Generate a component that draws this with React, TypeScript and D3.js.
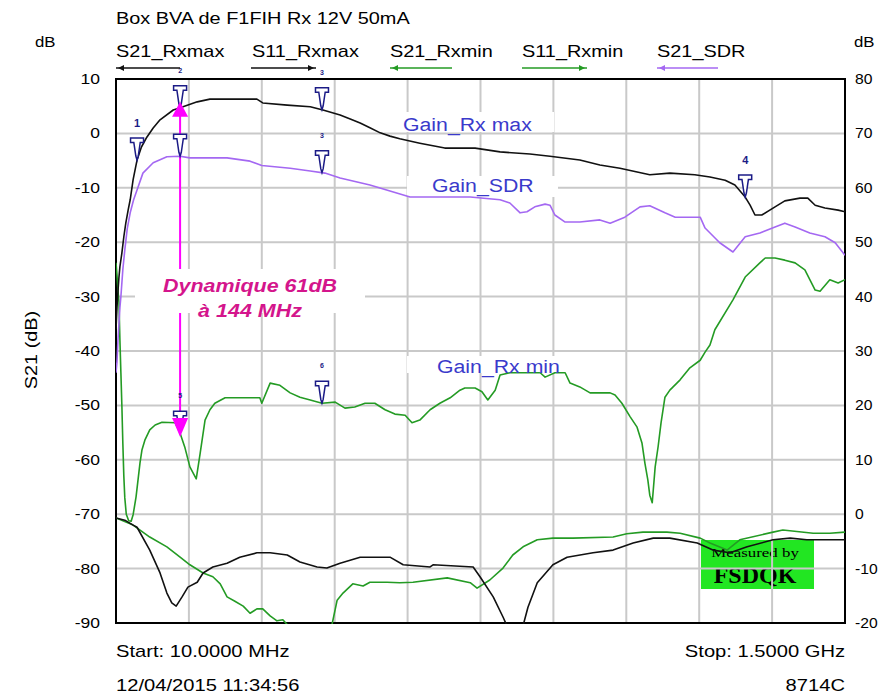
import React from "react";
import * as d3 from "d3";

type Pt = [number, number];

// ---------- text / axis data ----------
const titleText = "Box BVA de F1FIH Rx 12V 50mA";
const leftTicks = [10, 0, -10, -20, -30, -40, -50, -60, -70, -80, -90];
const rightTicks = [80, 70, 60, 50, 40, 30, 20, 10, 0, -10, -20];
const freqStart = 10;
const freqStop = 1500;
const xDivisions = 10;
const legendNames = ["S21_Rxmax", "S11_Rxmax", "S21_Rxmin", "S11_Rxmin", "S21_SDR"];
const startText = "Start: 10.0000 MHz";
const stopText = "Stop: 1.5000 GHz";
const dateText = "12/04/2015 11:34:56";
const modelText = "8714C";
const yAxisTitle = "S21 (dB)";
const gainLabels = ["Gain_Rx max", "Gain_SDR", "Gain_Rx min"];
const dynLines = ["Dynamique 61dB", "à 144 MHz"];
const stampLines = ["Measured by", "FSDQK"];

// ---------- series (freq MHz, dB) ----------
// left axis
const s21RxMax: Pt[] = [
  [10, -36], [12, -32], [14, -29], [16, -26.5], [18, -24.5], [22, -22], [26, -19], [30, -16.5],
  [35, -14], [39, -12.2], [45, -8.5], [53, -4.9], [62, -2.5], [73, -0.7], [86, 1.0], [100, 2.5],
  [127, 4.3], [147, 4.9], [176, 5.8], [202, 6.3], [298, 6.3], [310, 5.6], [360, 5.2], [407, 4.9],
  [433, 4.3], [468, 3.4], [490, 2.6], [509, 1.9], [530, 1.0], [550, 0.1], [570, -0.5], [590, -1.0],
  [631, -1.8], [682, -2.7], [744, -2.7], [795, -3.4], [856, -3.8], [897, -4.2], [958, -4.9],
  [999, -5.8], [1040, -6.4], [1101, -7.6], [1142, -7.3], [1193, -7.6], [1224, -8.0], [1255, -8.6],
  [1275, -9.5], [1296, -11.7], [1306, -13.2], [1316, -15.0], [1330, -15.0], [1357, -13.5],
  [1377, -12.4], [1408, -11.9], [1424, -11.9], [1439, -13.2], [1459, -13.7], [1486, -14.1], [1500, -14.4],
];
const s21Sdr: Pt[] = [
  [10, -44], [12, -42], [14, -38], [16, -35], [18, -32], [20, -30], [24, -25], [28, -21.4],
  [33, -17.5], [39, -14.6], [46, -12.2], [53, -10.4], [65, -7.3], [86, -5.4], [114, -4.3],
  [141, -4.2], [161, -4.5], [237, -4.5], [284, -5.1], [308, -5.9], [366, -6.4], [407, -6.9],
  [437, -7.3], [468, -8.2], [529, -9.5], [611, -11.7], [734, -11.7], [795, -12.2], [815, -12.8],
  [836, -14.6], [850, -14.4], [866, -13.5], [887, -13.0], [897, -13.2], [907, -15.0], [928, -16.3],
  [958, -16.3], [999, -15.9], [1020, -16.5], [1050, -15.4], [1081, -13.5], [1101, -13.3],
  [1132, -14.6], [1153, -15.4], [1204, -15.4], [1214, -17.4], [1244, -20.1], [1271, -21.8],
  [1296, -19.0], [1326, -18.3], [1357, -17.2], [1377, -16.5], [1398, -17.2], [1428, -18.3],
  [1459, -19.0], [1480, -20.1], [1500, -22.4],
];
const s21RxMin: Pt[] = [
  [10, -23.8], [12, -26], [14, -28.8], [16, -31], [18, -38], [20, -44], [22, -50], [24, -57],
  [26, -63], [28, -67], [31, -70], [36, -71.2], [41, -71.3], [45, -70.1], [51, -66.8], [59, -60.6],
  [63, -58.2], [69, -56.4], [79, -54.5], [90, -53.6], [104, -53.1], [131, -53.2], [141, -55.1],
  [151, -57.8], [161, -61.3], [174, -63.5], [182, -58.8], [192, -52.7], [202, -50.8], [212, -49.6],
  [233, -48.6], [304, -48.6], [308, -49.6], [325, -45.9], [345, -46.3], [366, -47.7], [386, -48.5],
  [407, -49.0], [431, -49.6], [458, -49.4], [478, -50.5], [498, -50.3], [519, -49.6], [539, -49.6],
  [560, -50.8], [580, -51.6], [601, -51.8], [615, -53.2], [631, -52.7], [652, -50.8], [672, -49.6],
  [693, -48.6], [713, -47.2], [723, -46.8], [744, -46.8], [758, -47.5], [770, -49.0], [785, -47.2],
  [795, -44.4], [815, -44.0], [877, -44.0], [887, -44.8], [907, -44.0], [928, -44.0], [938, -45.9],
  [958, -46.6], [979, -47.7], [1020, -47.7], [1030, -48.1], [1044, -49.6], [1061, -52.1],
  [1075, -54.0], [1085, -56.9], [1091, -60.6], [1097, -63.7], [1101, -66.5], [1106, -67.9],
  [1112, -61.3], [1118, -57.6], [1124, -53.2], [1132, -48.5], [1142, -47.2], [1163, -45.3],
  [1183, -43.1], [1204, -41.7], [1214, -40.2], [1224, -38.9], [1234, -36.1], [1271, -30.6],
  [1296, -26.4], [1326, -23.8], [1337, -22.9], [1357, -22.9], [1377, -23.3], [1398, -23.8],
  [1418, -25.1], [1439, -28.8], [1449, -29.0], [1469, -26.9], [1486, -27.5], [1500, -26.9],
];
// right axis
const s11RxMax: Pt[] = [
  [10, -0.7], [28, -1.1], [45, -2.0], [53, -2.4], [79, -6.6], [100, -10.8], [114, -14.5],
  [124, -16.3], [133, -16.9], [145, -15.2], [157, -13.4], [176, -12.5], [188, -10.8], [208, -9.7],
  [237, -9.0], [263, -7.9], [298, -7.1], [325, -7.1], [360, -7.5], [386, -8.8], [421, -9.7],
  [441, -9.9], [468, -9.0], [509, -7.9], [556, -7.9], [570, -7.9], [597, -9.3], [652, -9.7],
  [658, -9.3], [740, -9.7], [754, -11.5], [781, -15.2], [801, -18.9], [809, -20.5], [842, -20.5],
  [852, -17.1], [871, -12.6], [903, -9.3], [932, -7.9], [985, -7.1], [1026, -6.6], [1067, -5.3],
  [1108, -4.4], [1142, -4.4], [1198, -5.3], [1230, -6.6], [1265, -7.1], [1300, -6.0], [1353, -4.7],
  [1388, -4.4], [1422, -4.7], [1500, -4.7],
];
const s11RxMin: Pt[] = [
  [10, -0.7], [45, -2.0], [79, -4.2], [114, -6.0], [141, -7.9], [161, -9.3], [188, -10.8],
  [208, -11.5], [223, -12.8], [237, -15.2], [253, -16.0], [270, -16.9], [284, -18.2], [298, -17.4],
  [310, -17.4], [325, -18.7], [339, -19.6], [351, -19.4], [362, -20.5], [451, -20.5], [462, -15.8],
  [474, -14.5], [494, -12.8], [515, -13.2], [529, -12.5], [564, -12.5], [590, -12.6], [617, -12.5],
  [687, -11.7], [734, -12.6], [748, -13.6], [774, -12.1], [801, -9.9], [821, -7.5], [842, -6.0],
  [871, -4.7], [903, -4.4], [944, -4.4], [1026, -4.2], [1054, -3.6], [1087, -3.3], [1136, -3.3],
  [1163, -3.5], [1204, -4.4], [1224, -5.3], [1259, -6.6], [1285, -4.7], [1353, -3.3], [1373, -2.9],
  [1435, -3.5], [1469, -3.5], [1500, -3.3],
];

// markers (freq MHz)
const markerFreqs = [53, 141, 431, 1296];
const dynFreq = 141;
const dynTopDb = 5.8;
const dynBottomDb = -55.8;

// ---------- helpers ----------
function interp(data: Pt[], f: number): number {
  for (let i = 1; i < data.length; i++) {
    if (f <= data[i][0]) {
      const [f0, v0] = data[i - 1];
      const [f1, v1] = data[i];
      return v0 + ((f - f0) / (f1 - f0)) * (v1 - v0);
    }
  }
  return data[data.length - 1][1];
}

const SANS = "'Liberation Sans', Arial, sans-serif";
const SERIF = "'Liberation Serif', 'Times New Roman', serif";

function ST(props: {
  x: number; y: number; sx?: number; size: number; anchor?: string; fill?: string;
  weight?: string; italic?: boolean; family?: string; rotate?: number; children: React.ReactNode;
}) {
  const { x, y, sx = 1.17, size, anchor = "start", fill = "#000", weight = "normal", italic, family = SANS, rotate = 0 } = props;
  return (
    <text
      transform={`translate(${x},${y}) rotate(${rotate}) scale(${sx},1)`}
      textAnchor={anchor as any}
      fontSize={size}
      fontFamily={family}
      fontWeight={weight}
      fontStyle={italic ? "italic" : "normal"}
      fill={fill}
    >
      {props.children}
    </text>
  );
}

export default function App() {
  const L = 116, R = 845, T = 79, B = 623;
  const x = d3.scaleLinear().domain([freqStart, freqStop]).range([L, R]);
  const yL = d3.scaleLinear().domain([-90, 10]).range([B, T]);
  const yR = d3.scaleLinear().domain([-20, 80]).range([B, T]);
  const lineL = d3.line<Pt>().x((d) => x(d[0])).y((d) => yL(d[1]));
  const lineR = d3.line<Pt>().x((d) => x(d[0])).y((d) => yR(d[1]));
  const vGrid = d3.range(1, xDivisions).map((i) => freqStart + (i * (freqStop - freqStart)) / xDivisions);
  const hGrid = leftTicks.slice(1, -1);

  const BLACK = "#111";
  const GREEN = "#249b24";
  const PURPLE = "#a468f2";
  const NAVY = "#1b1b86";
  const GRID = "#c9c9c9";
  const MAG = "#ff00ff";

  const legend = [
    { name: legendNames[0], tx: 116, x0: 116, x1: 180, color: BLACK, dir: -1 },
    { name: legendNames[1], tx: 252, x0: 251, x1: 316, color: BLACK, dir: 1 },
    { name: legendNames[2], tx: 390, x0: 390, x1: 452, color: GREEN, dir: -1 },
    { name: legendNames[3], tx: 522, x0: 522, x1: 587, color: GREEN, dir: 1 },
    { name: legendNames[4], tx: 657, x0: 657, x1: 718, color: PURPLE, dir: -1 },
  ];

  const markers = [
    { data: s21RxMax, f: markerFreqs[0], label: "1", big: true },
    { data: s21RxMax, f: markerFreqs[1], label: "2", big: false },
    { data: s21RxMax, f: markerFreqs[2], label: "3", big: false },
    { data: s21RxMax, f: markerFreqs[3], label: "4", big: true },
    { data: s21Sdr, f: markerFreqs[1], label: "", big: false },
    { data: s21Sdr, f: markerFreqs[2], label: "3", big: false },
    { data: s21RxMin, f: markerFreqs[1], label: "5", big: false },
    { data: s21RxMin, f: markerFreqs[2], label: "6", big: false },
  ];

  const markerPath = "M-6.5,-22 L6.5,-22 L6.5,-17.5 L3.2,-17.5 L1.2,-4 L0,0 L-1.2,-4 L-3.2,-17.5 L-6.5,-17.5 Z";

  const ax = x(dynFreq);
  const aTop = yL(dynTopDb);
  const aBot = yL(dynBottomDb);

  return (
    <svg width={879} height={694} style={{ position: "absolute", left: 0, top: 0, background: "#fff" }}>
      <defs>
        <clipPath id="plotClip">
          <rect x={L} y={T - 1} width={R - L} height={B - T + 2} />
        </clipPath>
      </defs>
      <rect x={0} y={0} width={879} height={694} fill="#fff" />

      {/* stamp box */}
      <rect x={701} y={540} width={113} height={49} fill="#22e622" />
      <ST x={755} y={557} size={13} sx={1.3} anchor="middle" family={SERIF}>{stampLines[0]}</ST>
      <ST x={755} y={583} size={24} sx={1.0} anchor="middle" family={SERIF} weight="bold">{stampLines[1]}</ST>

      {/* grid */}
      <g stroke={GRID} strokeWidth={2}>
        {vGrid.map((f) => (
          <line key={"v" + f} x1={x(f)} x2={x(f)} y1={T} y2={B} />
        ))}
        {hGrid.map((v) => (
          <line key={"h" + v} x1={L} x2={R} y1={yL(v)} y2={yL(v)} />
        ))}
      </g>

      {/* magenta dynamic line */}
      <line x1={ax} x2={ax} y1={aTop + 12} y2={aBot - 16} stroke={MAG} strokeWidth={2} />

      {/* white label boxes */}
      <g fill="#fff">
        <rect x={135} y={269} width={230} height={44} />
        <rect x={400} y={112} width={154} height={20} />
        <rect x={407} y={176} width={151} height={21} />
        <rect x={407} y={356} width={153} height={17} />
      </g>

      {/* plot border */}
      <rect x={L} y={T} width={R - L} height={B - T} fill="none" stroke="#000" strokeWidth={2} />

      {/* curves */}
      <g clipPath="url(#plotClip)" fill="none" strokeWidth={1.6} strokeLinejoin="round">
        <path d={lineR(s11RxMin) || ""} stroke={GREEN} />
        <path d={lineR(s11RxMax) || ""} stroke={BLACK} />
        <path d={lineL(s21RxMin) || ""} stroke={GREEN} />
        <path d={lineL(s21Sdr) || ""} stroke={PURPLE} />
        <path d={lineL(s21RxMax) || ""} stroke={BLACK} />
      </g>

      {/* markers */}
      {markers.map((m, i) => {
        const mx = x(m.f);
        const my = yL(interp(m.data, m.f));
        return (
          <g key={"m" + i} transform={`translate(${mx},${my})`}>
            <path d={markerPath} fill="#fff" stroke={NAVY} strokeWidth={1.5} />
            {m.label && (
              <text
                x={0}
                y={m.big ? -33 : -35}
                textAnchor="middle"
                fontSize={m.big ? 11 : 7}
                fontWeight="bold"
                fontFamily={SANS}
                fill={NAVY}
              >
                {m.label}
              </text>
            )}
          </g>
        );
      })}

      {/* magenta arrowheads */}
      <path d={`M${ax},${aTop} L${ax + 8},${aTop + 15} L${ax - 8},${aTop + 15} Z`} fill={MAG} />
      <path d={`M${ax},${aBot} L${ax + 8},${aBot - 19} L${ax - 8},${aBot - 19} Z`} fill={MAG} />

      {/* in-plot labels */}
      <ST x={403} y={131} size={19} sx={1.12} fill="#3a3acb">{gainLabels[0]}</ST>
      <ST x={432} y={192} size={19} sx={1.12} fill="#3a3acb">{gainLabels[1]}</ST>
      <ST x={437} y={373} size={19} sx={1.12} fill="#3a3acb">{gainLabels[2]}</ST>
      <ST x={250} y={292} size={19} sx={1.13} anchor="middle" weight="bold" italic fill="#d4158c">{dynLines[0]}</ST>
      <ST x={250} y={317} size={19} sx={1.13} anchor="middle" weight="bold" italic fill="#d4158c">{dynLines[1]}</ST>

      {/* axes labels */}
      {leftTicks.map((v) => (
        <ST key={"lt" + v} x={100} y={yL(v) + 5} size={14} sx={1.25} anchor="end">{String(v)}</ST>
      ))}
      {rightTicks.map((v) => (
        <ST key={"rt" + v} x={855} y={yR(v) + 5} size={14} sx={1.12}>{String(v)}</ST>
      ))}
      <ST x={35} y={47} size={14} sx={1.2}>dB</ST>
      <ST x={854} y={47} size={14} sx={1.2}>dB</ST>
      <ST x={37} y={350} size={17} sx={1.17} anchor="middle" rotate={-90}>{yAxisTitle}</ST>

      {/* title & legend */}
      <ST x={116} y={24} size={17} sx={1.17}>{titleText}</ST>
      {legend.map((lg) => {
        const ay = 68;
        const tip = lg.dir < 0 ? lg.x0 + 2 : lg.x1 - 2;
        const base = tip - lg.dir * 6;
        return (
          <g key={lg.name}>
            <ST x={lg.tx} y={57} size={17} sx={1.17}>{lg.name}</ST>
            <line x1={lg.x0} x2={lg.x1} y1={ay} y2={ay} stroke={lg.color} strokeWidth={1.6} />
            <path d={`M${tip},${ay} L${base},${ay - 3} L${base},${ay + 3} Z`} fill={lg.color} />
          </g>
        );
      })}

      {/* footer */}
      <ST x={116} y={657} size={16} sx={1.26}>{startText}</ST>
      <ST x={845} y={657} size={16} sx={1.26} anchor="end">{stopText}</ST>
      <ST x={116} y={691} size={16} sx={1.26}>{dateText}</ST>
      <ST x={845} y={691} size={16} sx={1.26} anchor="end">{modelText}</ST>
    </svg>
  );
}
